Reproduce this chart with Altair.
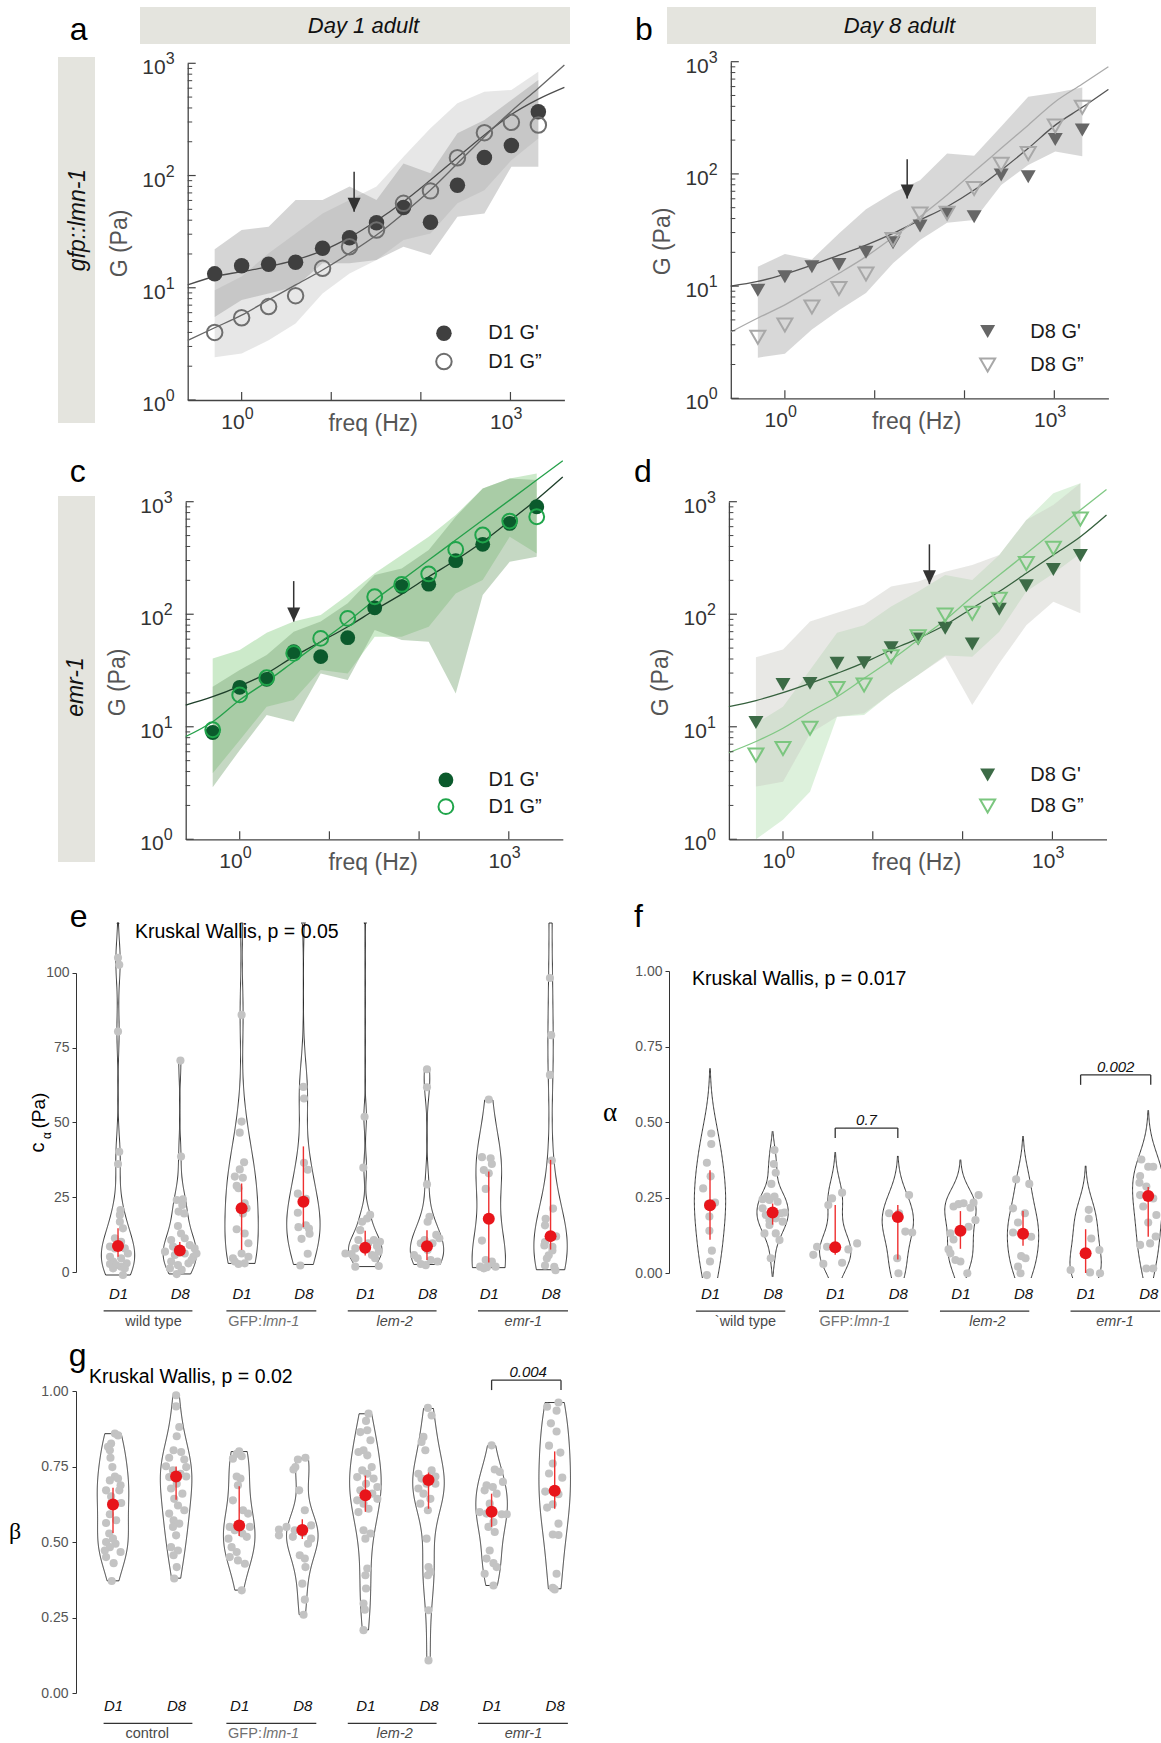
import altair as alt
import pandas as pd

W, H = 1161, 1743
SANS = "Liberation Sans"
SERIF = "Liberation Serif"

# ---------------- data: rheology panels a-d ----------------
FREQ = [0.5, 1, 2, 4, 8, 16, 32, 64, 128, 256, 512, 1024, 2048]
FIT_FREQ = [0.25, 0.5, 1, 2, 4, 8, 16, 32, 64, 128, 256, 512, 1024, 2048, 4000]
DECADES = [1, 10, 100, 1000]
EXPONENTS = ["0", "1", "2", "3"]
MINOR = [2, 3, 4, 5, 6, 7, 8, 9, 20, 30, 40, 50, 60, 70, 80, 90,
         200, 300, 400, 500, 600, 700, 800, 900]

A_GP = [13.3, 15.7, 16.2, 16.9, 22.5, 27.9, 38.0, 52.0, 38.3, 82.0, 145, 185, 370]
A_GPP = [4.0, 5.4, 6.8, 8.5, 14.9, 23.2, 32.7, 56.5, 73.0, 144, 241, 298, 282]
A_FIT_GP = [10.6, 12.6, 13.9, 15.4, 17.7, 21.4, 28.1, 39.6, 58.5, 91.2, 145, 230, 350, 480, 611]
A_FIT_GPP = [3.4, 4.4, 5.7, 7.8, 10.6, 14.4, 20.3, 29.5, 46.0, 74.3, 128, 222, 374, 600, 966]
A_B1_HI = [22, 32.7, 35, 60.5, 60.5, 80, 60.5, 128, 105, 238, 313, 471, 710]
A_B1_LO = [5.5, 7.8, 8.9, 10.2, 16.5, 16.5, 17.7, 23.2, 19.6, 43, 46, 120, 120]
A_B2_HI = [9.5, 12.6, 20.3, 30.5, 46, 60.5, 80, 147, 264, 440, 558, 578, 842]
A_B2_LO = [2.4, 2.6, 3.4, 4.8, 8.9, 13.4, 17.7, 26.7, 30.5, 56.5, 74, 137, 214]

B_GP = [9.2, 12.1, 14.9, 15.6, 20.0, 24.4, 34.3, 43.9, 41.6, 97.7, 94.4, 203, 246]
B_GPP = [3.5, 4.5, 6.5, 9.5, 12.8, 26.0, 43.9, 44.5, 74.0, 122, 152, 267, 392]
B_FIT_GP = [10.0, 11.0, 12.8, 15.4, 18.9, 23.2, 29.5, 38.8, 51.0, 71.8, 108, 169, 272, 392, 567]
B_FIT_GPP = [3.9, 5.2, 6.8, 9.4, 13.0, 18.3, 27.2, 41.6, 64.8, 105, 169, 272, 440, 632, 902]
B_B_HI = [14.9, 19.3, 17.3, 29.5, 48.3, 68, 88, 152, 145, 264, 487, 529, 590]
B_B_LO = [2.3, 2.5, 4.1, 6.1, 8.7, 16, 25.7, 36.7, 38.8, 79.6, 120, 158, 144]

C_GP = [8.9, 22.4, 26.4, 46.5, 42.0, 61.9, 114, 176, 185, 299, 418, 641, 902]
C_GPP = [9.4, 19.2, 27.3, 44.9, 61.0, 91.9, 143, 184, 228, 377, 506, 673, 735]
C_FIT_GP = [15.6, 18.5, 23.0, 29.8, 42.0, 57.0, 77.5, 109, 151, 215, 303, 441, 676, 1047, 1660]
C_FIT_GPP = [8.2, 11.1, 17.3, 25.2, 37.9, 57.0, 85.9, 134, 201, 303, 456, 687, 1033, 1556, 2312]
C_B1_HI = [22.7, 32, 43.4, 70, 86, 125, 223, 255, 372, 735, 1312, 1610, 1556]
C_B1_LO = [2.9, 6.2, 12.7, 11.1, 29.8, 26, 72.4, 59, 57, 19.8, 148, 293, 324]
C_B2_HI = [40.5, 48, 68.5, 86, 98.4, 148, 231, 336, 488, 761, 1312, 1610, 1783]
C_B2_LO = [3.86, 7.6, 15.1, 17.3, 32, 29.8, 63, 63, 77.5, 153, 201, 488, 347]

D_GP = [10.9, 23.8, 24.3, 36.6, 37.1, 50.4, 60.3, 74.9, 54.4, 111, 179, 250, 333]
D_GPP = [5.6, 6.4, 9.7, 21.9, 23.5, 42.0, 63.0, 98.4, 102, 136, 283, 385, 701]
D_FIT_GP = [15.1, 17.1, 20.1, 24.3, 29.8, 37.1, 48.1, 61.0, 80.2, 113, 159, 231, 336, 488, 761]
D_FIT_GPP = [5.9, 7.4, 9.7, 13.6, 18.5, 26.9, 39.2, 59.0, 88.8, 143, 223, 347, 541, 843, 1285]
D_B1_HI = [41.4, 48.7, 86, 103, 122, 176, 195, 239, 274, 336, 687, 933, 1455]
D_B1_LO = [2.94, 3.25, 8.7, 12.3, 13.2, 19.8, 28.8, 42, 15.6, 36.6, 80, 129, 102]
D_B2_HI = [10.7, 15.1, 32, 68.5, 80, 117, 159, 223, 201, 336, 687, 1186, 1455]
D_B2_LO = [1.0, 1.49, 2.65, 12.3, 12.7, 19.8, 28.8, 43, 42, 70, 159, 230, 347]

# ---------------- data: violin panels e-g  (value, jitter) ----------------
E_WT1 = [(105.1, 0.0), (102.7, 0.02), (80.4, 0.0), (40.2, 0.02), (36.1, 0.0), (20.7, 0.04), (19.1, 0.03),
         (16.8, 0.03), (14.6, 0.08), (11.3, -0.05), (10.1, 0.05), (8.5, -0.13), (7.9, -0.05), (7.9, 0.11),
         (6.2, 0.16), (5.1, -0.13), (4.6, 0.05), (3.5, -0.08), (2.9, 0.14), (2.7, -0.13), (2.3, -0.03),
         (1.8, 0.05), (1.2, 0.11), (1.2, -0.08), (-1.0, 0.08), (140.0, 0.0)]
E_WT8 = [(70.7, 0.01), (38.6, 0.02), (24.1, -0.05), (24.3, 0.05), (22.4, 0.04), (20.2, -0.02), (19.6, 0.07),
         (15.4, -0.03), (12.9, 0.02), (10.7, -0.14), (11.3, 0.08), (6.8, -0.24), (8.5, -0.11), (9.0, 0.16),
         (7.9, 0.24), (5.7, -0.08), (6.2, 0.08), (5.1, 0.22), (3.5, -0.14), (2.3, -0.03), (2.9, 0.14),
         (6.2, 0.27), (1.2, -0.16), (0.7, 0.03), (-0.7, -0.05), (4.0, 0.19)]
E_GFP1 = [(86.0, 0.0), (50.3, 0.0), (46.6, -0.03), (36.7, 0.04), (34.3, -0.03), (31.9, -0.11), (31.5, 0.02),
          (28.8, -0.08), (28.0, -0.05), (23.0, 0.05), (21.3, 0.08), (19.6, 0.02), (14.3, -0.08), (12.9, 0.05),
          (9.6, 0.11), (4.6, -0.14), (6.2, 0.0), (5.1, 0.11), (3.5, -0.11), (2.9, 0.05), (2.7, -0.05), (125.0, 0.0)]
E_GFP8 = [(61.9, 0.0), (58.0, 0.01), (36.5, 0.01), (34.2, 0.07), (26.2, -0.09), (24.5, 0.04), (19.8, -0.09),
          (15.0, -0.08), (14.5, 0.09), (11.1, -0.03), (6.1, 0.07), (2.2, -0.05), (15.6, 0.04), (12.8, 0.1),
          (128.0, 0.0)]
E_LEM1 = [(51.9, -0.01), (34.9, -0.03), (19.1, 0.08), (17.9, 0.03), (16.8, -0.05), (14.0, -0.08), (10.7, 0.14),
          (10.1, 0.24), (10.7, -0.11), (9.6, 0.05), (8.7, 0.19), (8.2, 0.0), (7.9, -0.16), (6.8, 0.22),
          (6.2, -0.32), (6.0, -0.22), (5.7, 0.11), (4.6, -0.16), (4.6, 0.16), (1.8, -0.16), (2.0, 0.22), (140.0, 0.0)]
E_LEM8 = [(67.8, 0.0), (61.8, 0.0), (29.3, 0.0), (18.5, 0.04), (16.8, 0.01), (12.4, 0.15), (11.3, 0.2),
          (10.7, -0.04), (9.6, -0.1), (9.6, 0.09), (5.7, -0.21), (7.4, 0.01), (4.6, -0.15), (4.0, 0.06),
          (2.7, -0.1), (3.5, 0.17), (2.3, -0.02)]
E_EMR1 = [(57.7, 0.0), (38.4, -0.11), (38.0, 0.03), (36.1, 0.05), (34.1, -0.08), (33.0, 0.0), (27.8, -0.05),
          (10.5, -0.11), (4.0, -0.05), (3.5, 0.05), (1.8, -0.14), (1.6, -0.03), (1.8, 0.11), (1.2, -0.08), (2.9, 0.03)]
E_EMR8 = [(98.3, -0.01), (79.2, 0.01), (65.9, -0.01), (37.3, 0.02), (21.2, 0.04), (17.8, -0.08), (15.6, -0.09),
          (11.9, 0.09), (10.0, -0.09), (8.4, 0.03), (8.9, -0.1), (5.6, -0.03), (4.5, -0.06), (2.2, -0.09),
          (1.7, 0.06), (0.6, 0.08), (7.2, 0.03), (125.0, 0.0)]
E_MED = [8.7, 7.2, 21.3, 23.5, 8.1, 8.6, 17.8, 12.0]
E_LO = [5.1, 5.8, 7.4, 15.0, 5.5, 4.0, 3.2, 7.5]
E_HI = [14.6, 10.0, 29.6, 42.0, 13.8, 14.0, 33.6, 37.5]

F_WT1 = [(0.462, 0.02), (0.427, 0.02), (0.365, -0.05), (0.32, 0.01), (0.280, -0.11), (0.233, 0.08), (0.228, -0.03),
         (0.187, -0.01), (0.140, -0.01), (0.074, 0.03), (0.038, 0.0), (-0.007, -0.05)]
F_WT8 = [(0.407, 0.03), (0.361, 0.02), (0.332, 0.05), (0.295, -0.02), (0.253, -0.09), (0.242, -0.05), (0.244, -0.16),
         (0.253, 0.03), (0.236, 0.08), (0.214, -0.16), (0.200, 0.19), (0.198, 0.13), (0.192, -0.11), (0.175, -0.05),
         (0.181, 0.05), (0.159, -0.05), (0.131, -0.13), (0.131, 0.05), (0.109, 0.11), (0.049, -0.03), (0.170, 0.16)]
F_GFP1 = [(0.266, 0.11), (0.247, -0.05), (0.225, -0.11), (0.098, 0.35), (0.078, 0.21), (0.087, -0.29), (0.087, -0.13),
          (0.060, -0.35), (0.030, -0.19), (0.034, 0.11)]
F_GFP8 = [(0.258, 0.18), (0.198, -0.14), (0.198, 0.02), (0.137, 0.12), (0.134, 0.23), (0.049, -0.01), (-0.001, 0.01)]
F_LEM1 = [(0.258, 0.29), (0.228, -0.03), (0.231, 0.05), (0.233, 0.21), (0.220, -0.11), (0.216, 0.16), (0.175, 0.24),
          (0.153, 0.13), (0.131, -0.16), (0.111, -0.11), (0.078, -0.19), (0.065, -0.16), (0.043, -0.08), (0.038, 0.0),
          (-0.001, 0.11)]
F_LEM8 = [(0.310, -0.11), (0.295, 0.1), (0.214, -0.16), (0.198, 0.03), (0.167, -0.08), (0.134, -0.16), (0.126, 0.0),
          (0.120, 0.13), (0.056, -0.03), (0.049, 0.04), (0.021, -0.08), (-0.001, -0.04)]
F_EMR1 = [(0.209, 0.05), (0.179, 0.05), (0.114, 0.09), (0.076, 0.22), (0.010, -0.24), (0.002, 0.07), (-0.001, 0.23)]
F_EMR8 = [(0.376, -0.11), (0.352, 0.0), (0.352, 0.08), (0.321, -0.13), (0.299, -0.14), (0.286, -0.03), (0.258, -0.13),
          (0.247, 0.08), (0.220, -0.08), (0.192, 0.13), (0.167, 0.0), (0.093, -0.13), (0.098, 0.03), (0.015, -0.03),
          (0.015, 0.08), (0.121, 0.12)]
F_MED = [0.224, 0.20, 0.085, 0.185, 0.14, 0.13, 0.065, 0.255]
F_LO = [0.11, 0.16, 0.06, 0.045, 0.08, 0.09, 0.0, 0.12]
F_HI = [0.34, 0.23, 0.225, 0.225, 0.205, 0.205, 0.145, 0.285]

G_WT1 = [(0.859, 0.03), (0.853, 0.08), (0.826, -0.03), (0.815, -0.08), (0.804, -0.05), (0.779, -0.04), (0.748, -0.01),
         (0.717, 0.03), (0.710, 0.08), (0.704, -0.05), (0.688, 0.12), (0.671, -0.11), (0.671, 0.1), (0.651, -0.03),
         (0.629, 0.13), (0.627, -0.03), (0.592, -0.05), (0.572, 0.05), (0.563, -0.11), (0.528, -0.06), (0.511, 0.0),
         (0.500, -0.11), (0.494, 0.04), (0.483, -0.05), (0.472, -0.13), (0.467, 0.12), (0.450, -0.11), (0.430, 0.01),
         (0.371, -0.02)]
G_WT8 = [(0.986, 0.0), (0.949, 0.0), (0.881, 0.05), (0.850, 0.01), (0.804, -0.04), (0.798, 0.08), (0.779, -0.11),
         (0.773, 0.13), (0.751, -0.16), (0.748, 0.16), (0.737, -0.05), (0.726, 0.07), (0.715, -0.11), (0.717, 0.16),
         (0.693, 0.01), (0.677, -0.08), (0.660, 0.1), (0.643, -0.03), (0.621, 0.03), (0.605, 0.13), (0.594, -0.11),
         (0.572, -0.04), (0.561, 0.05), (0.550, -0.05), (0.522, 0.0), (0.483, -0.08), (0.472, 0.03), (0.456, -0.04),
         (0.417, 0.01), (0.379, -0.03)]
G_GFP1 = [(0.800, 0.0), (0.792, -0.04), (0.784, 0.04), (0.776, -0.1), (0.717, -0.04), (0.710, 0.02), (0.688, -0.02),
          (0.638, -0.1), (0.605, 0.06), (0.594, 0.14), (0.550, -0.15), (0.539, -0.07), (0.528, 0.05), (0.511, -0.17),
          (0.517, 0.12), (0.550, 0.17), (0.483, -0.12), (0.467, -0.04), (0.450, -0.15), (0.439, -0.02), (0.428, 0.09),
          (0.340, 0.04)]
G_GFP8 = [(0.779, 0.05), (0.773, -0.07), (0.748, -0.11), (0.740, -0.14), (0.671, -0.05), (0.605, 0.04), (0.550, -0.25),
          (0.541, -0.37), (0.539, -0.12), (0.530, 0.01), (0.522, -0.37), (0.511, 0.14), (0.517, -0.15), (0.494, 0.09),
          (0.555, 0.14), (0.456, -0.04), (0.445, 0.04), (0.417, 0.05), (0.362, 0.0), (0.309, 0.04), (0.259, 0.02)]
G_LEM1 = [(0.925, 0.05), (0.901, 0.01), (0.870, 0.03), (0.864, -0.08), (0.837, 0.08), (0.804, -0.03), (0.798, -0.11),
          (0.787, 0.03), (0.748, 0.1), (0.737, -0.05), (0.726, 0.03), (0.710, 0.13), (0.715, -0.13), (0.693, 0.01),
          (0.682, 0.19), (0.671, -0.08), (0.660, 0.11), (0.638, -0.13), (0.627, -0.03), (0.610, 0.05), (0.643, 0.19),
          (0.599, -0.11), (0.539, -0.03), (0.528, 0.08), (0.511, 0.0), (0.412, 0.03), (0.390, 0.0), (0.346, 0.01),
          (0.296, -0.03), (0.276, -0.01), (0.208, -0.03)]
G_LEM8 = [(0.944, -0.01), (0.919, 0.05), (0.848, -0.08), (0.831, -0.11), (0.804, -0.05), (0.737, 0.05), (0.726, -0.16),
          (0.717, 0.11), (0.710, -0.11), (0.693, -0.03), (0.693, 0.11), (0.677, -0.16), (0.660, -0.08), (0.643, 0.03),
          (0.627, -0.13), (0.605, -0.01), (0.511, -0.03), (0.417, 0.0), (0.401, 0.03), (0.390, -0.01), (0.274, 0.0),
          (0.108, 0.0)]
G_EMR1 = [(0.820, 0.0), (0.740, 0.05), (0.732, 0.13), (0.699, 0.18), (0.688, -0.08), (0.671, -0.11), (0.682, 0.02),
          (0.660, 0.08), (0.627, -0.03), (0.599, -0.19), (0.594, -0.08), (0.592, 0.16), (0.592, 0.24), (0.566, 0.03),
          (0.550, -0.05), (0.533, 0.05), (0.472, -0.03), (0.445, -0.08), (0.430, 0.03), (0.417, 0.08), (0.395, -0.11),
          (0.356, 0.03)]
G_EMR8 = [(0.962, 0.06), (0.948, -0.12), (0.935, 0.03), (0.893, -0.06), (0.866, 0.03), (0.819, -0.09), (0.796, 0.09),
          (0.760, -0.03), (0.727, -0.09), (0.713, 0.12), (0.667, -0.15), (0.658, 0.06), (0.625, -0.03), (0.614, -0.12),
          (0.561, 0.06), (0.525, -0.03), (0.523, 0.06), (0.395, 0.03), (0.348, -0.03), (0.343, 0.0)]
G_MED = [0.624, 0.717, 0.555, 0.54, 0.655, 0.705, 0.60, 0.67]
G_LO = [0.53, 0.64, 0.52, 0.51, 0.60, 0.61, 0.55, 0.61]
G_HI = [0.68, 0.75, 0.685, 0.575, 0.72, 0.73, 0.66, 0.80]

XPOS = [1, 2, 3, 4, 5, 6, 7, 8]

# ---------------- helpers ----------------
ARROW = "M-1.3,-2.8L1.3,-2.8L0,0Z"
LAYERS = []


def tx(s, x, y, size, color="#111", style="normal", font=SANS, align="center", baseline="middle", angle=0):
    kw = dict(fontSize=size, color=color, font=font, align=align, baseline=baseline, fontStyle=style)
    if angle:
        kw["angle"] = angle
    return alt.Chart(pd.DataFrame({"t": [s]})).mark_text(**kw).encode(
        x=alt.value(x), y=alt.value(y), text="t:N")


def box(x1, x2, y1, y2, color="#e4e4de"):
    return alt.Chart(pd.DataFrame({"k": [0]})).mark_rect(color=color).encode(
        x=alt.value(x1), x2=alt.value(x2), y=alt.value(y1), y2=alt.value(y2))


def log_panel(geo, d):
    xs = alt.Scale(type="log", domain=[0.25, 4000], range=geo["xr"], nice=False)
    ys = alt.Scale(type="log", domain=[1, 1000], range=geo["yr"], nice=False)

    def X(f, axis=None):
        return alt.X(f, scale=xs, axis=axis)

    def Y(f, axis=None):
        return alt.Y(f, scale=ys, axis=axis)

    out = []
    for hi, lo, col, op in d["bands"]:
        df = pd.DataFrame({"f": FREQ, "hi": hi, "lo": lo})
        out.append(alt.Chart(df).mark_area(color=col, opacity=op).encode(
            x=X("f:Q"), y=Y("hi:Q"), y2="lo:Q"))
    for fit, col in ((d["fit_gp"], d["lc_gp"]), (d["fit_gpp"], d["lc_gpp"])):
        df = pd.DataFrame({"f": FIT_FREQ, "G": fit})
        out.append(alt.Chart(df).mark_line(color=col, strokeWidth=1.3, interpolate="monotone").encode(
            x=X("f:Q"), y=Y("G:Q")))
    filled = dict(shape=d["shape"], filled=True, size=d["size"], color=d["pc_gp"], opacity=1)
    hollow = dict(shape=d["shape"], filled=False, size=d["size"], color=d["pc_gpp"], strokeWidth=2, opacity=1)
    out.append(alt.Chart(pd.DataFrame({"f": FREQ, "G": d["gp"]})).mark_point(**filled).encode(
        x=X("f:Q"), y=Y("G:Q")))
    out.append(alt.Chart(pd.DataFrame({"f": FREQ, "G": d["gpp"]})).mark_point(**hollow).encode(
        x=X("f:Q"), y=Y("G:Q")))
    af, atop, atip = d["arrow"]
    adf = pd.DataFrame({"f": [af], "top": [atop], "tip": [atip]})
    out.append(alt.Chart(adf).mark_rule(color="#333", strokeWidth=1.5).encode(
        x=X("f:Q"), y=Y("top:Q"), y2="tip:Q"))
    out.append(alt.Chart(adf).mark_point(shape=ARROW, filled=True, size=100, color="#333", opacity=1).encode(
        x=X("f:Q"), y=Y("tip:Q")))
    mf, my1, my2, tf, labs = d["legend"]
    out.append(alt.Chart(pd.DataFrame({"f": [mf], "G": [my1]})).mark_point(**filled).encode(
        x=X("f:Q"), y=Y("G:Q")))
    out.append(alt.Chart(pd.DataFrame({"f": [mf], "G": [my2]})).mark_point(**hollow).encode(
        x=X("f:Q"), y=Y("G:Q")))
    out.append(alt.Chart(pd.DataFrame({"f": [tf, tf], "G": [my1, my2], "t": labs})).mark_text(
        align="left", baseline="middle", fontSize=20, font=SANS, color="#1a1a1a").encode(
        x=X("f:Q"), y=Y("G:Q"), text="t:N"))
    x0, y0 = geo["xr"][0], geo["yr"][0]
    # inward ticks
    out.append(alt.Chart(pd.DataFrame({"v": DECADES})).mark_rule(color="#444", strokeWidth=1.2).encode(
        y=Y("v:Q"), x=alt.value(x0), x2=alt.value(x0 + 8)))
    out.append(alt.Chart(pd.DataFrame({"v": MINOR})).mark_rule(color="#444", strokeWidth=1).encode(
        y=Y("v:Q"), x=alt.value(x0), x2=alt.value(x0 + 4.5)))
    out.append(alt.Chart(pd.DataFrame({"v": DECADES})).mark_rule(color="#444", strokeWidth=1.2).encode(
        x=X("v:Q"), y=alt.value(y0), y2=alt.value(y0 - 8)))
    # tick labels 10^n (base + raised exponent)
    ylab = pd.DataFrame({"f": [0.25] * 4, "v": DECADES, "b": ["10"] * 4, "e": EXPONENTS})
    out.append(alt.Chart(ylab).mark_text(align="right", baseline="middle", fontSize=21, font=SANS,
                                         color="#333", dx=-22, dy=5).encode(x=X("f:Q"), y=Y("v:Q"), text="b:N"))
    out.append(alt.Chart(ylab).mark_text(align="left", baseline="middle", fontSize=16, font=SANS,
                                         color="#333", dx=-22, dy=-4).encode(x=X("f:Q"), y=Y("v:Q"), text="e:N"))
    xlab = pd.DataFrame({"v": [1, 1000], "g": [1, 1], "b": ["10", "10"], "e": ["0", "3"]})
    out.append(alt.Chart(xlab).mark_text(align="right", baseline="middle", fontSize=21, font=SANS,
                                         color="#333", dx=3, dy=23).encode(x=X("v:Q"), y=Y("g:Q"), text="b:N"))
    out.append(alt.Chart(xlab).mark_text(align="left", baseline="middle", fontSize=16, font=SANS,
                                         color="#333", dx=3, dy=14).encode(x=X("v:Q"), y=Y("g:Q"), text="e:N"))
    yax = alt.Axis(orient="left", offset=-x0, values=DECADES, labels=False, ticks=False, grid=False,
                   domainColor="#444", domainWidth=1.3,
                   title="G (Pa)", titleFont=SANS, titleFontSize=23, titleFontWeight="normal",
                   titleColor="#555", titleAngle=270, titleX=-68, titleY=geo["ty"], titleAlign="center",
                   titleBaseline="middle")
    xax = alt.Axis(orient="bottom", offset=y0 - H, values=[1, 1000], labels=False, ticks=False, grid=False,
                   domainColor="#444", domainWidth=1.3,
                   title="freq (Hz)", titleFont=SANS, titleFontSize=23,
                   titleFontWeight="normal", titleColor="#555", titleX=geo["fx"], titleY=23,
                   titleAlign="center", titleBaseline="middle")
    out.append(alt.Chart(pd.DataFrame({"f": [1], "G": [1]})).mark_point(opacity=0).encode(
        x=X("f:Q", xax), y=Y("G:Q", yax)))
    return out


def violin_panel(geo, groups, med, lo, hi, lines, labels, kw_text, brackets, btexts):
    rows = []
    for i, grp in enumerate(groups):
        for v, j in grp:
            rows.append({"p": i + 1, "val": v, "dx": j})
    df = pd.DataFrame(rows)
    xs = alt.Scale(domain=geo["xdom"], range=geo["xr"], nice=False, zero=False)
    ys = alt.Scale(domain=geo["ydom"], range=geo["yr"], nice=False, zero=False)
    ysc = alt.Scale(domain=geo["ydom"], range=geo["yr"], nice=False, zero=False, clamp=True)

    def X(f, axis=None):
        return alt.X(f, scale=xs, axis=axis)

    def Y(f):
        return alt.Y(f, scale=ys, axis=None)

    hw = geo["hw"]
    out = []
    base = alt.Chart(df)
    calc = dict(xl=f"datum.p - {hw} * datum.density / datum.gmax",
                xr=f"datum.p + {hw} * datum.density / datum.gmax")
    if "extent" in geo:
        v = base.transform_density("val", as_=["val", "density"], groupby=["p"], steps=200, extent=geo["extent"])
        v = v.transform_joinaggregate(gmax="max(density)", groupby=["p"])
        v = v.transform_filter(f"datum.density > {geo['cut']} * datum.gmax").transform_calculate(**calc)
        v = v.transform_fold(["xl", "xr"], as_=["side", "xs"])
        out.append(v.mark_line(color="#222", strokeWidth=0.9).encode(
            x=X("xs:Q"), y=alt.Y("val:Q", scale=ysc, axis=None), detail=["p:N", "side:N"], order="val:Q"))
    else:
        v = base.transform_joinaggregate(vmin="min(val)", vmax="max(val)", groupby=["p"])
        v = v.transform_density("val", as_=["val", "density"], groupby=["p", "vmin", "vmax"], steps=400)
        v = v.transform_filter("datum.val >= datum.vmin && datum.val <= datum.vmax")
        v = v.transform_joinaggregate(gmax="max(density)", groupby=["p"]).transform_calculate(**calc)
        out.append(v.mark_area(orient="horizontal", fillOpacity=0, stroke="#222", strokeWidth=0.9).encode(
            y=alt.Y("val:Q", scale=ysc, axis=None), x=X("xl:Q"), x2="xr:Q", detail="p:N"))
    top = geo["ydom"][1]
    out.append(base.transform_filter(f"datum.val <= {top}").transform_calculate(px="datum.p + datum.dx")
               .mark_circle(size=66, color="#c3c3c3", opacity=1).encode(x=X("px:Q"), y=Y("val:Q")))
    sdf = pd.DataFrame({"p": XPOS, "med": med, "lo": lo, "hi": hi})
    out.append(alt.Chart(sdf).mark_rule(color="#ee3030", strokeWidth=1.4).encode(
        x=X("p:Q"), y=Y("lo:Q"), y2="hi:Q"))
    out.append(alt.Chart(sdf).mark_circle(size=144, color="#e8151b", opacity=1).encode(
        x=X("p:Q"), y=Y("med:Q")))
    ldf = pd.DataFrame({"x1": [a for a, b in lines], "x2": [b for a, b in lines], "y": [geo["line_y"]] * 4})
    out.append(alt.Chart(ldf).mark_rule(color="#333", strokeWidth=1.2).encode(
        x=X("x1:Q"), x2="x2:Q", y=Y("y:Q")))
    ly = geo["lab_y"]
    (first, fx), split, lem_x, emr_x = labels
    lab = dict(fontSize=14.5, font=SANS, baseline="middle")
    out.append(alt.Chart(pd.DataFrame({"x": [fx], "y": [ly], "t": [first]})).mark_text(
        color="#4a4a4a", **lab).encode(x=X("x:Q"), y=Y("y:Q"), text="t:N"))
    out.append(alt.Chart(pd.DataFrame({"x": [split], "y": [ly], "t": ["GFP:"]})).mark_text(
        color="#707070", align="right", **lab).encode(x=X("x:Q"), y=Y("y:Q"), text="t:N"))
    out.append(alt.Chart(pd.DataFrame({"x": [split], "y": [ly], "t": ["lmn-1"]})).mark_text(
        color="#707070", align="left", fontStyle="italic", dx=1, **lab).encode(x=X("x:Q"), y=Y("y:Q"), text="t:N"))
    out.append(alt.Chart(pd.DataFrame({"x": [lem_x, emr_x], "y": [ly, ly], "t": ["lem-2", "emr-1"]})).mark_text(
        color="#4a4a4a", fontStyle="italic", **lab).encode(x=X("x:Q"), y=Y("y:Q"), text="t:N"))
    kt, kx, ky = kw_text
    out.append(alt.Chart(pd.DataFrame({"x": [kx], "y": [ky], "t": [kt]})).mark_text(
        fontSize=19.5, font=SANS, color="#000", align="left", baseline="middle").encode(
        x=X("x:Q"), y=Y("y:Q"), text="t:N"))
    if brackets:
        bdf = pd.DataFrame({"x1": [b[0] for b in brackets], "x2": [b[1] for b in brackets],
                            "y1": [b[2] for b in brackets], "y2": [b[3] for b in brackets]})
        out.append(alt.Chart(bdf).mark_rule(color="#333", strokeWidth=1.3).encode(
            x=X("x1:Q"), x2="x2:Q", y=Y("y1:Q"), y2="y2:Q"))
        tdf = pd.DataFrame({"x": [b[0] for b in btexts], "y": [b[1] for b in btexts], "t": [b[2] for b in btexts]})
        out.append(alt.Chart(tdf).mark_text(fontSize=15, font=SANS, fontStyle="italic", color="#111",
                                            baseline="middle").encode(x=X("x:Q"), y=Y("y:Q"), text="t:N"))
    yax = alt.Axis(orient="left", offset=-geo["xr"][0], values=geo["yvals"], format=geo["yfmt"], tickSize=4,
                   tickColor="#333", tickWidth=1, domainColor="#333", domainWidth=1, labelFont=SANS,
                   labelFontSize=14, labelColor="#555", labelPadding=geo["lpad"], grid=False, title=None)
    xax = alt.Axis(orient="bottom", offset=geo["yr"][0] - H, values=XPOS,
                   labelExpr="datum.value % 2 == 1 ? 'D1' : 'D8'", labelFont=SANS, labelFontSize=15,
                   labelFontStyle="italic", labelColor="#111", labelPadding=geo["xpad"], domain=False,
                   ticks=False, grid=False, labelFlush=False, title=None)
    ascale = alt.Scale(domain=geo["adom"], range=geo["ar"], nice=False, zero=False)
    out.append(alt.Chart(pd.DataFrame({"p": [1], "v": [geo["adom"][0]]})).mark_point(opacity=0).encode(
        x=X("p:Q", xax), y=alt.Y("v:Q", scale=ascale, axis=yax)))
    return out


# ---------------- page decorations (behind) ----------------
LAYERS += [box(140, 570, 7, 44), box(667, 1096, 7, 44), box(58, 95, 57, 423), box(58, 95, 496, 862)]
LAYERS += [tx("Day 1 adult", 363.5, 26, 22, style="italic"), tx("Day 8 adult", 899.5, 26, 22, style="italic"),
           tx("gfp::lmn-1", 77.5, 220, 23, style="italic", angle=270),
           tx("emr-1", 76, 687, 23, style="italic", angle=270)]
for letter, lx, ly in (("a", 78.6, 40), ("b", 644, 40), ("c", 77.7, 481.7), ("d", 643, 481.7),
                       ("e", 78.6, 926.7), ("f", 638.5, 926.7), ("g", 77.7, 1366)):
    LAYERS.append(tx(letter, lx, ly, 32, color="#000", baseline="alphabetic"))

# ---------------- panels a-d ----------------
GEO_A = dict(xr=[187.7, 564.4], yr=[400.0, 63.3], ty=243, fx=372.7)
GEO_B = dict(xr=[730.8, 1108.4], yr=[398.3, 61.7], ty=241, fx=916.2)
GEO_C = dict(xr=[185.7, 562.8], yr=[839.3, 501.7], ty=682, fx=372.7)
GEO_D = dict(xr=[728.9, 1106.5], yr=[839.3, 501.7], ty=682, fx=916.2)

LAYERS += log_panel(GEO_A, dict(
    bands=[(A_B2_HI, A_B2_LO, "#b4b4b4", 0.32), (A_B1_HI, A_B1_LO, "#9a9a9a", 0.42)],
    fit_gp=A_FIT_GP, fit_gpp=A_FIT_GPP, lc_gp="#4d4d4d", lc_gpp="#666666",
    gp=A_GP, gpp=A_GPP, shape="circle", size=240, pc_gp="#3f3f3f", pc_gpp="#6e6e6e",
    arrow=(18.0, 108, 47.6), legend=(181, 3.93, 2.2, 566, ["D1 G'", "D1 G\u201d"])))
LAYERS += log_panel(GEO_B, dict(
    bands=[(B_B_HI, B_B_LO, "#d6d6d6", 0.95)],
    fit_gp=B_FIT_GP, fit_gpp=B_FIT_GPP, lc_gp="#555555", lc_gpp="#aaaaaa",
    gp=B_GP, gpp=B_GPP, shape="triangle-down", size=225, pc_gp="#666666", pc_gpp="#a8a8a8",
    arrow=(23.0, 135, 60.5), legend=(181, 3.93, 1.98, 540, ["D8 G'", "D8 G\u201d"])))
LAYERS += log_panel(GEO_C, dict(
    bands=[(C_B2_HI, C_B2_LO, "#8fd18a", 0.45), (C_B1_HI, C_B1_LO, "#7fa97a", 0.45)],
    fit_gp=C_FIT_GP, fit_gpp=C_FIT_GPP, lc_gp="#1e3f2a", lc_gpp="#25a04a",
    gp=C_GP, gpp=C_GPP, shape="circle", size=220, pc_gp="#0b5a2c", pc_gpp="#20a54b",
    arrow=(4.0, 197, 86), legend=(199, 3.37, 1.95, 593, ["D1 G'", "D1 G\u201d"])))
LAYERS += log_panel(GEO_D, dict(
    bands=[(D_B2_HI, D_B2_LO, "#9fd89b", 0.35), (D_B1_HI, D_B1_LO, "#c8c8c0", 0.42)],
    fit_gp=D_FIT_GP, fit_gpp=D_FIT_GPP, lc_gp="#35603d", lc_gpp="#80c884",
    gp=D_GP, gpp=D_GPP, shape="triangle-down", size=225, pc_gp="#3c6b46", pc_gpp="#7bc67f",
    arrow=(42.7, 418, 185), legend=(190, 3.73, 1.98, 566, ["D8 G'", "D8 G\u201d"])))

# ---------------- panels e-g ----------------
GEO_E = dict(xr=[76, 600], xdom=[0.320, 8.80], yr=[1278, 923], ydom=[-2.0, 116.7], ar=[1272.0, 972.9],
             adom=[0, 100], yvals=[0, 25, 50, 75, 100], yfmt="d", lpad=3, xpad=8, hw=0.27,
             line_y=-13.0, lab_y=-16.7)
GEO_F = dict(xr=[669, 1161], xdom=[0.345, 8.204], yr=[1278, 923], ydom=[-0.0166, 1.159], ar=[1273, 971],
             adom=[0, 1], yvals=[0, 0.25, 0.5, 0.75, 1.0], yfmt=".2f", lpad=3, xpad=8, hw=0.25,
             extent=[-0.0166, 0.8], cut=0.02, line_y=-0.126, lab_y=-0.161)
GEO_G = dict(xr=[76, 600], xdom=[0.4136, 8.718], yr=[1693, 1391], ydom=[0, 1], ar=[1693, 1391],
             adom=[0, 1], yvals=[0, 0.25, 0.5, 0.75, 1.0], yfmt=".2f", lpad=4, xpad=5, hw=0.25,
             line_y=-0.1003, lab_y=-0.136)

LAYERS += violin_panel(
    GEO_E, [E_WT1, E_WT8, E_GFP1, E_GFP8, E_LEM1, E_LEM8, E_EMR1, E_EMR8], E_MED, E_LO, E_HI,
    [(0.767, 2.204), (2.754, 4.209), (4.718, 6.155), (6.825, 8.282)],
    (("wild type", 1.574), 3.33, 5.477, 7.56), ("Kruskal Wallis, p = 0.05", 1.275, 113.7), [], [])
LAYERS += violin_panel(
    GEO_F, [F_WT1, F_WT8, F_GFP1, F_GFP8, F_LEM1, F_LEM8, F_EMR1, F_EMR8], F_MED, F_LO, F_HI,
    [(0.775, 2.203), (2.741, 4.169), (4.673, 6.10), (6.759, 8.19)],
    (("`wild type", 1.566), 3.29, 5.43, 7.47), ("Kruskal Wallis, p = 0.017", 0.712, 0.974),
    [(3.0, 4.0, 0.480, 0.480), (3.0, 3.0, 0.447, 0.480), (4.0, 4.0, 0.447, 0.480),
     (6.92, 8.04, 0.656, 0.656), (6.92, 6.92, 0.623, 0.656), (8.04, 8.04, 0.623, 0.656)],
    [(3.5, 0.507, "0.7"), (7.48, 0.683, "0.002")])
LAYERS += violin_panel(
    GEO_G, [G_WT1, G_WT8, G_GFP1, G_GFP8, G_LEM1, G_LEM8, G_EMR1, G_EMR8], G_MED, G_LO, G_HI,
    [(0.851, 2.258), (2.797, 4.222), (4.721, 6.128), (6.784, 8.209)],
    (("control", 1.542), 3.36, 5.464, 7.505), ("Kruskal Wallis, p = 0.02", 0.62, 1.046),
    [(7.0, 8.1, 1.036, 1.036), (7.0, 7.0, 1.003, 1.036), (8.1, 8.1, 1.003, 1.036)],
    [(7.58, 1.063, "0.004")])

# y titles of violin panels
LAYERS += [tx("c", 38, 1147.5, 20, color="#000", angle=270),
           tx("\u03b1", 46.8, 1135.5, 12, color="#000", angle=270),
           tx("(Pa)", 38.8, 1110.5, 19, color="#000", angle=270),
           tx("\u03b1", 610, 1113, 27, color="#000", font=SERIF),
           tx("\u03b2", 15, 1532, 24, color="#000", font=SERIF)]

chart = alt.layer(*LAYERS).resolve_scale(x="independent", y="independent").properties(
    width=W, height=H, padding=0, autosize=alt.AutoSizeParams(type="none")
).configure_view(strokeWidth=0)

chart.save("out.html", embed_options={"renderer": "svg", "actions": False})
